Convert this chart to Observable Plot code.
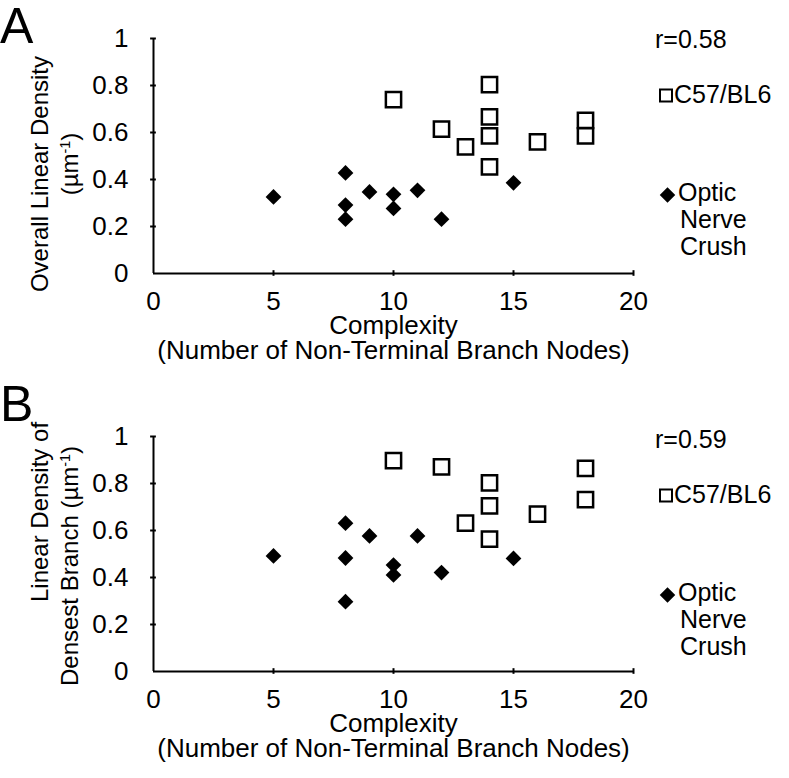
<!DOCTYPE html>
<html><head><meta charset="utf-8">
<script src="https://cdn.jsdelivr.net/npm/d3@7"></script>
<script src="https://cdn.jsdelivr.net/npm/@observablehq/plot@0.6"></script>
<style>
body{margin:0;background:#fff;}
#root{position:relative;width:789px;height:778px;overflow:hidden;font-family:"Liberation Sans",Arial,sans-serif;color:#000;background:#fff;}
.abs{position:absolute;white-space:nowrap;line-height:1;font-size:24px;}
.panel{position:absolute;left:0;}
sup{font-size:0.6em;vertical-align:0.55em;line-height:0;}
.sq{display:inline-block;width:10px;height:10px;border:2px solid #000;background:#fff;margin-right:1px;}
.dm{display:inline-block;width:11px;height:11px;background:#000;transform:rotate(45deg);}
</style></head><body><div id="root"></div>
<script>
// ---- data ----
const xTicks = [0, 5, 10, 15, 20];
const yTicks = [0, 0.2, 0.4, 0.6, 0.8, 1];
const seriesNames = ["C57/BL6", "Optic Nerve Crush"];
// Panel A: Overall Linear Density
const aC57X = [10, 14, 14, 14, 14, 12, 13, 16, 18, 18];
const aC57Y = [0.740, 0.804, 0.666, 0.586, 0.454, 0.614, 0.539, 0.560, 0.652, 0.586];
const aOncX = [5, 8, 8, 8, 9, 10, 10, 11, 12, 15];
const aOncY = [0.326, 0.428, 0.291, 0.231, 0.347, 0.337, 0.277, 0.354, 0.231, 0.386];
// Panel B: Linear Density of Densest Branch
const bC57X = [10, 12, 14, 14, 14, 13, 16, 18, 18];
const bC57Y = [0.897, 0.871, 0.803, 0.705, 0.563, 0.631, 0.670, 0.864, 0.731];
const bOncX = [5, 8, 8, 8, 9, 10, 10, 11, 12, 15];
const bOncY = [0.492, 0.631, 0.483, 0.297, 0.577, 0.453, 0.411, 0.577, 0.421, 0.481];
const rValues = ["r=0.58", "r=0.59"];
const xTitle = ["Complexity", "(Number of Non-Terminal Branch Nodes)"];

const root = document.getElementById("root");
const zip = (xs, ys) => xs.map((x, i) => ({x, y: ys[i]}));
const fmt = d => String(+d.toFixed(1));

function panel(c57, onc, top, height) {
  const mb = height - 38 - 235;
  const chart = Plot.plot({
    width: 789, height,
    marginLeft: 153, marginRight: 156, marginTop: 38, marginBottom: mb,
    style: {fontFamily: "'Liberation Sans', Arial, sans-serif", fontSize: "26px", color: "black", background: "transparent", overflow: "visible"},
    x: {domain: [0, 20]},
    y: {domain: [0, 1]},
    marks: [
      Plot.axisY(yTicks, {tickSize: 0, tickPadding: 25, tickFormat: fmt, label: null, fontSize: 26}),
      Plot.axisX(xTicks, {tickSize: 0, tickPadding: 18, tickFormat: fmt, label: null, fontSize: 26}),
      Plot.ruleY(yTicks.filter(d => d > 0), {y: d => d, x1: -0.12, x2: 0.12, stroke: "black", strokeWidth: 2}),
      Plot.ruleX(xTicks.filter(d => d > 0), {x: d => d, y1: -0.012, y2: 0.012, stroke: "black", strokeWidth: 2}),
      Plot.ruleX([0], {y1: 0, y2: 1, stroke: "black", strokeWidth: 2}),
      Plot.ruleY([0], {x1: 0, x2: 20, stroke: "black", strokeWidth: 2}),
      Plot.text([xTitle[0]], {text: d => d, frameAnchor: "bottom", dy: 60, fontSize: 26, fill: "black"}),
      Plot.text([xTitle[1]], {text: d => d, frameAnchor: "bottom", dy: 85, fontSize: 26, fill: "black"}),
      Plot.dot(c57, {x: "x", y: "y", symbol: "square", r: 8.6, fill: "white", stroke: "black", strokeWidth: 2.5}),
      Plot.dot(onc, {x: "x", y: "y", symbol: "diamond2", r: 7.1, fill: "black", stroke: "none"})
    ]
  });
  const wrap = document.createElement("div");
  wrap.className = "panel";
  wrap.style.top = top + "px";
  wrap.appendChild(chart);
  root.appendChild(wrap);
}

panel(zip(aC57X, aC57Y), zip(aOncX, aOncY), 0, 389);
panel(zip(bC57X, bC57Y), zip(bOncX, bOncY), 397.7, 380);

function place(html, x, cy, opts = {}) {
  const d = document.createElement("div");
  d.className = "abs";
  d.innerHTML = html;
  d.style.left = x + "px";
  d.style.top = cy + "px";
  d.style.transform = opts.rot ? "translate(-50%,-50%) rotate(-90deg)" : "translateY(-50%)";
  if (opts.size) d.style.fontSize = opts.size + "px";
  root.appendChild(d);
  return d;
}

// panel letters
place("A", 0, 26, {size: 50});
place("B", 0, 404, {size: 50});

// y titles
place("Overall Linear Density", 40, 174, {rot: true});
place("(µm<sup>-1</sup>)", 70, 164, {rot: true});
place("Linear Density of", 40, 512, {rot: true});
place("Densest Branch (µm<sup>-1</sup>)", 70, 566, {rot: true});

// legends
function legend(off, r) {
  place(r, 655, 39 + off, {size: 25});
  place('<span class="sq"></span>' + seriesNames[0], 659, 94 + off, {size: 25});
  place('<span class="dm" style="margin:0 5px 0 2px"></span>Optic', 660, 192 + off, {size: 25});
  place("Nerve", 680, 219 + off, {size: 25});
  place("Crush", 680, 246 + off, {size: 25});
}
legend(0, rValues[0]);
legend(400, rValues[1]);
</script></body></html>
